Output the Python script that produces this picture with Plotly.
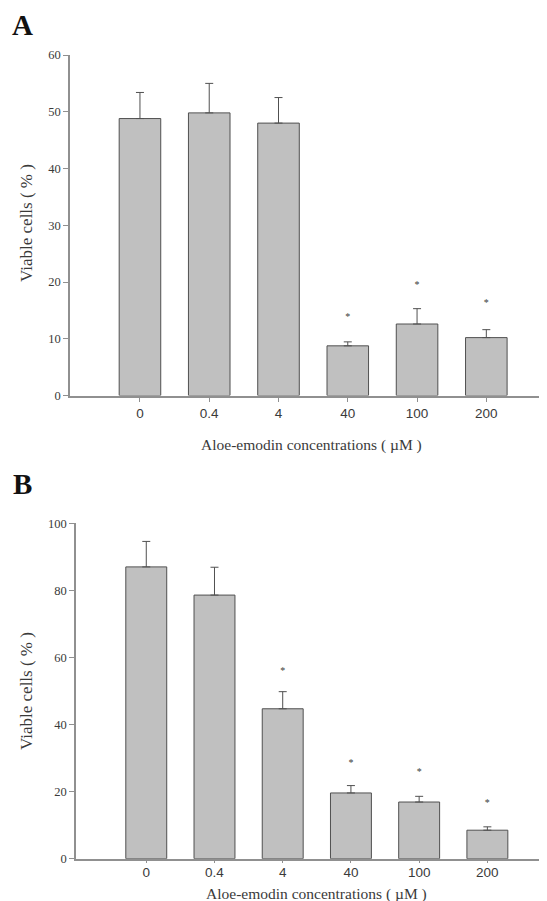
import plotly.graph_objects as go

categories = ["0", "0.4", "4", "40", "100", "200"]

# Panel A
values_a = [48.8, 49.8, 48.0, 8.75, 12.6, 10.2]
errors_a = [4.6, 5.2, 4.5, 0.7, 2.7, 1.4]
star_a = [None, None, None, 13.7, 19.4, 16.3]
yticks_a = [0, 10, 20, 30, 40, 50, 60]

# Panel B
values_b = [87.0, 78.6, 44.7, 19.6, 16.9, 8.5]
errors_b = [7.6, 8.3, 5.1, 2.2, 1.7, 1.0]
star_b = [None, None, 55.9, 28.5, 25.8, 16.5]
yticks_b = [0, 20, 40, 60, 80, 100]

x_title = "Aloe-emodin concentrations ( µM )"
y_title = "Viable cells ( % )"

# The page body has a default 8px margin, so the figure is offset by 8px.
OFF = 8
W, H = 547 - OFF, 901 - OFF
BAR_FILL = "#c0c0c0"
BAR_LINE = "#505050"
AXIS = "#909090"
TEXT = "#3a3a3a"
SERIF = "Liberation Serif, Times New Roman, serif"
SANS = "Liberation Sans, Arial, sans-serif"


def px(x):
    return (x - OFF) / W


def py(y):
    return 1 - (y - OFF) / H


fig = go.Figure()


def add_panel(vals, errs, stars, xa, ya):
    fig.add_trace(go.Bar(
        x=list(range(len(categories))), y=vals, width=0.6,
        marker=dict(color=BAR_FILL, line=dict(color=BAR_LINE, width=1)),
        error_y=dict(type="data", array=errs, arrayminus=[0] * len(errs),
                     symmetric=False, color=BAR_LINE, thickness=1, width=4),
        xaxis=xa, yaxis=ya, showlegend=False,
    ))
    sx = [i for i, s in enumerate(stars) if s is not None]
    sy = [s for s in stars if s is not None]
    fig.add_trace(go.Scatter(
        x=sx, y=sy, mode="text", text=["*"] * len(sx),
        textfont=dict(family=SERIF, size=10, color=TEXT),
        xaxis=xa, yaxis=ya, showlegend=False, hoverinfo="skip",
    ))


add_panel(values_a, errors_a, star_a, "x", "y")
add_panel(values_b, errors_b, star_b, "x2", "y2")

common_x = dict(
    tickmode="array", tickvals=list(range(len(categories))), ticktext=categories,
    showline=True, linecolor=AXIS, linewidth=1.5, ticks="outside", ticklen=5,
    tickcolor=AXIS, tickwidth=1, showgrid=False, zeroline=False,
    tickfont=dict(family=SANS, size=13.5, color=TEXT), automargin=False,
)
common_y = dict(
    showline=True, linecolor=AXIS, linewidth=1.5, ticks="outside", ticklen=5,
    tickcolor=AXIS, tickwidth=1, showgrid=False, zeroline=False,
    tickfont=dict(family=SERIF, size=12.5, color=TEXT), automargin=False,
    tickmode="array",
)


def paper_text(text, x, y, size, bold=False, angle=0, family=SERIF, color=TEXT):
    return dict(text=f"<b>{text}</b>" if bold else text,
                x=px(x), y=py(y), xref="paper", yref="paper",
                xanchor="center", yanchor="middle", showarrow=False,
                textangle=angle, font=dict(family=family, size=size, color=color))


fig.update_layout(
    width=W, height=H, margin=dict(l=0, r=0, t=0, b=0, autoexpand=False),
    paper_bgcolor="white", plot_bgcolor="white",
    xaxis=dict(common_x, domain=[px(70), 1.0], range=[-1.01, 5.876],
               anchor="y"),
    yaxis=dict(common_y, domain=[py(395.5), py(55)], range=[0, 60],
               tickvals=yticks_a, anchor="x"),
    xaxis2=dict(common_x, domain=[px(76), 1.0], range=[-1.03, 5.874],
                anchor="y2", ticklen=3, ticklabelstandoff=-3),
    yaxis2=dict(common_y, domain=[py(858.7), py(523.3)], range=[0, 100],
                tickvals=yticks_b, anchor="x2"),
    annotations=[
        paper_text("A", 22, 25, 29, bold=True, color="#111111"),
        paper_text("B", 22.5, 484, 29, bold=True, color="#111111"),
        paper_text(x_title, 311, 445, 15.5),
        paper_text(x_title, 316.5, 894, 15.5),
        paper_text(y_title, 26.5, 223.5, 17, angle=-90),
        paper_text(y_title, 26, 691, 17, angle=-90),
    ],
)

fig.write_html("out.html")
